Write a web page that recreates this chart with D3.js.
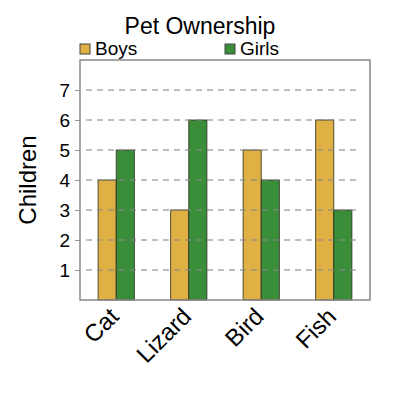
<!DOCTYPE html>
<html>
<head>
<meta charset="utf-8">
<script src="https://cdn.jsdelivr.net/npm/d3@7"></script>
<style>
  body { margin: 0; background: #fff; }
  text { font-family: "Liberation Sans", Arial, sans-serif; fill: #000; }
</style>
</head>
<body>
<div id="chart"></div>
<script>
var pets = ["Cat", "Lizard", "Bird", "Fish"];
var groups = ["Boys", "Girls"];
var boys = [4, 3, 5, 6];
var girls = [5, 6, 4, 3];
var yTicks = [1, 2, 3, 4, 5, 6, 7];
var colors = ["#dfb043", "#3a8e3a"];

var margin = {top: 60, right: 30, bottom: 100, left: 80},
    width = 400 - margin.left - margin.right,
    height = 400 - margin.top - margin.bottom;

var svg = d3.select("#chart")
  .append("svg")
    .attr("width", 400)
    .attr("height", 400);

var vis = svg.append("g")
  .attr("transform", "translate(" + margin.left + "," + margin.top + ")");

// scales
var x = d3.scaleBand()
  .domain(pets)
  .range([0, width])
  .paddingInner(0.5)
  .paddingOuter(0.25);
var xs = d3.scaleBand()
  .domain(groups)
  .range([0, x.bandwidth()]);
var y = d3.scaleLinear()
  .domain([0, 8])
  .range([height, 0]);

var rows = pets.map(function(p, i) {
  return {pet: p, values: [{g: "Boys", v: boys[i]}, {g: "Girls", v: girls[i]}]};
});

// bars
var grp = vis.append("g")
  .selectAll("g")
  .data(rows)
  .enter()
  .append("g")
    .attr("transform", function(d) { return "translate(" + x(d.pet) + ",0)"; });

grp.selectAll("rect")
  .data(function(d) { return d.values; })
  .enter()
  .append("rect")
    .attr("x", function(d) { return xs(d.g); })
    .attr("y", function(d) { return y(d.v); })
    .attr("width", xs.bandwidth())
    .attr("height", function(d) { return height - y(d.v); })
    .style("fill", function(d, i) { return colors[i]; })
    .style("stroke", "#2a2a1a")
    .style("stroke-opacity", 0.8)
    .style("stroke-width", 1);

// gridlines over the bars
vis.append("g")
  .selectAll("line")
  .data(yTicks)
  .enter()
  .append("line")
    .attr("x1", 6)
    .attr("x2", width - 10)
    .attr("y1", function(d) { return y(d); })
    .attr("y2", function(d) { return y(d); })
    .style("stroke", "#888")
    .style("stroke-opacity", 0.55)
    .style("stroke-width", 2)
    .style("stroke-dasharray", "6 5");

// y axis
var yax = d3.axisLeft(y)
  .tickValues(yTicks)
  .tickSize(5)
  .tickPadding(5);
var yg = vis.append("g").call(yax);
yg.select(".domain").remove();
yg.selectAll(".tick line").style("stroke", "#999");
yg.selectAll(".tick text")
  .style("font-size", "19px")
  .style("font-family", "Liberation Sans, Arial, sans-serif");

// x axis labels
var xg = vis.append("g")
  .attr("transform", "translate(0," + height + ")")
  .call(d3.axisBottom(x).tickSize(0).tickPadding(0));
xg.select(".domain").remove();
xg.selectAll(".tick text")
  .style("font-size", "24px")
  .style("font-family", "Liberation Sans, Arial, sans-serif")
  .style("text-anchor", "end")
  .attr("dy", "0")
  .attr("transform", "translate(4,18) rotate(-45)");

// frame
vis.append("rect")
  .attr("width", width)
  .attr("height", height)
  .style("fill", "none")
  .style("stroke", "#888")
  .style("stroke-width", 1.5);

// title
svg.append("text")
  .attr("x", 200)
  .attr("y", 34)
  .attr("text-anchor", "middle")
  .style("font-size", "23px")
  .text("Pet Ownership");

// legend
var leg = svg.append("g")
  .selectAll("g")
  .data(groups)
  .enter()
  .append("g")
    .attr("transform", function(d, i) { return "translate(" + (margin.left + i * width / 2) + ",43)"; });
leg.append("rect")
  .attr("width", 10)
  .attr("height", 10)
  .attr("y", 1)
  .style("fill", function(d, i) { return colors[i]; })
  .style("stroke", "#444");
leg.append("text")
  .attr("x", 15)
  .attr("y", 12)
  .style("font-size", "19px")
  .text(function(d) { return d; });

// y axis title
svg.append("text")
  .attr("transform", "translate(36," + (margin.top + height / 2) + ") rotate(-90)")
  .attr("text-anchor", "middle")
  .style("font-size", "24px")
  .text("Children");
</script>
</body>
</html>
